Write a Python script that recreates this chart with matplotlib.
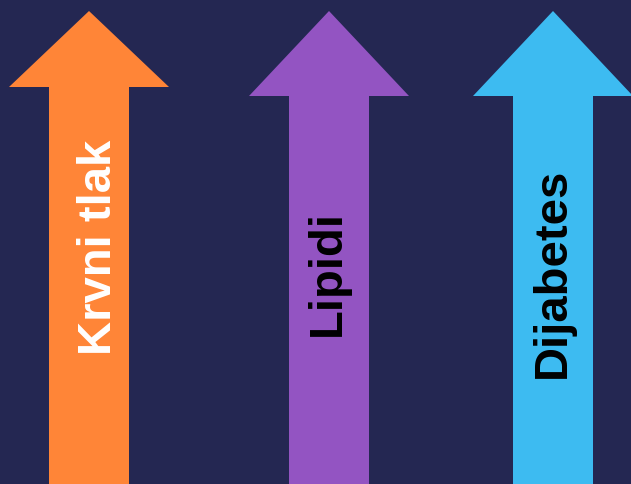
import matplotlib.pyplot as plt

# data
labels = ['Krvni tlak', 'Lipidi', 'Dijabetes']
heights = [473, 473, 473]          # arrow length (px units)
colors = ['#FF8537', '#9354C2', '#3DBBF1']
text_colors = ['white', 'black', 'black']

# layout
x_pos = [89, 329, 553]
head_len = [76, 85, 85]
label_x = [99, 328, 553]
label_y = [238, 212, 212]

plt.rcParams['font.family'] = ['Liberation Sans', 'DejaVu Sans']

fig = plt.figure(figsize=(6.31, 4.85), dpi=100)
fig.patch.set_facecolor('#242752')
ax = fig.add_axes([0, 0, 1, 1])
ax.set_facecolor('#242752')
ax.set_xlim(0, 631)
ax.set_ylim(0, 485)
ax.axis('off')

for i in range(len(labels)):
    ax.arrow(x_pos[i], 0, 0, heights[i], width=80, head_width=160,
             head_length=head_len[i], length_includes_head=True,
             color=colors[i], linewidth=0)
    ax.text(label_x[i], label_y[i], labels[i], rotation=90, ha='center', va='center',
            fontsize=34, fontweight='bold', color=text_colors[i])

fig.savefig('out.png', dpi=100, facecolor=fig.get_facecolor())
